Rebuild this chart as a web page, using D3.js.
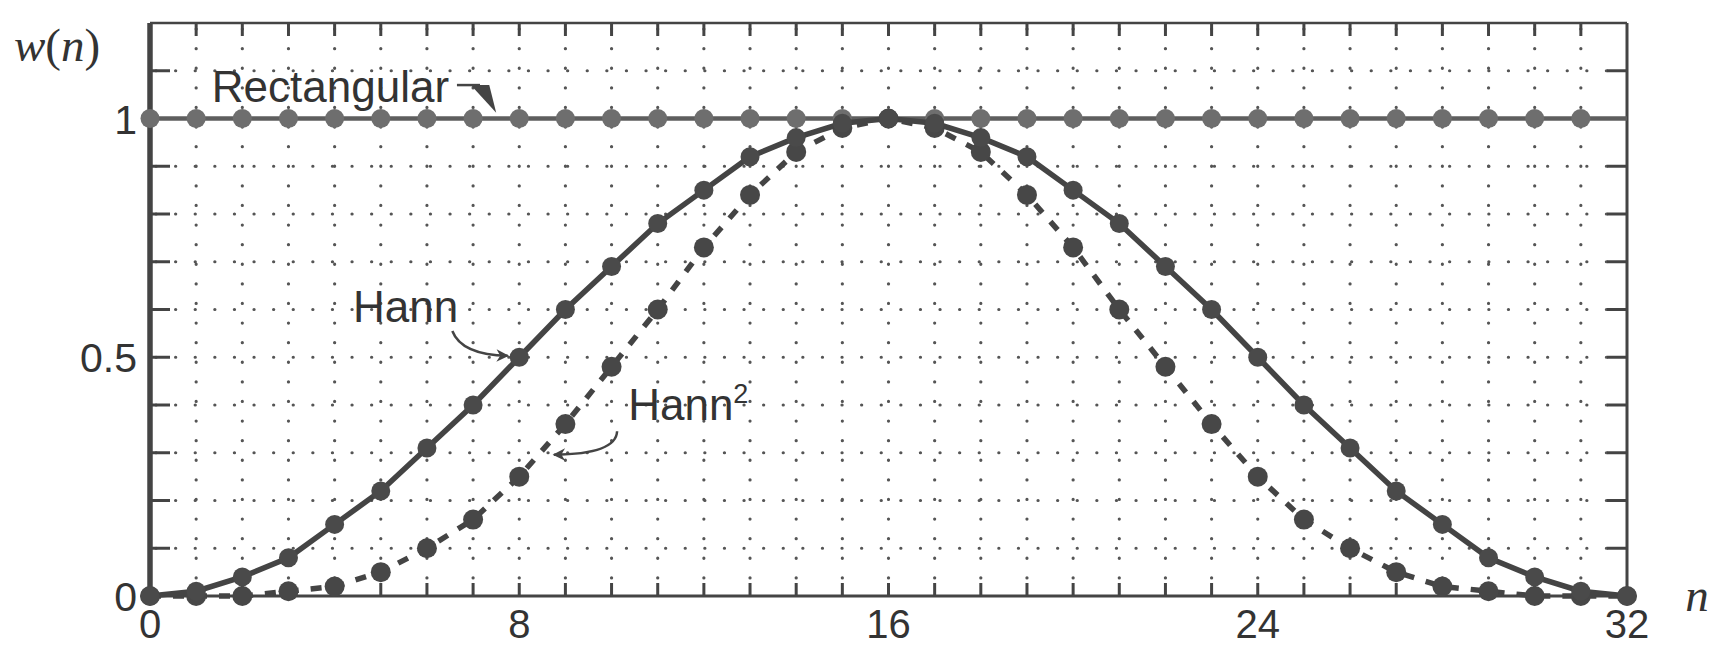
<!DOCTYPE html>
<meta charset="utf-8">
<html>
  <style>
    body { margin: 0; background: #fff; }
    text { font-family: "Liberation Sans", Arial, sans-serif; fill: #333; }
    .grid line { stroke: #555; stroke-width: 3.2; stroke-linecap: round; stroke-dasharray: 0.1 19.5; }
    .tick-mark { stroke: #444; stroke-width: 3; }
    .frame { fill: none; stroke: #444; }
    .serif { font-family: "Liberation Serif", "Times New Roman", serif; font-style: italic; }
  </style>
  <head>
    <script src="https://d3js.org/d3.v7.min.js"></script>
  </head>
  <body>
    <script>
      // sample index n
      var n = d3.range(0, 33);

      // window values
      var rectangular = [1, 1, 1, 1, 1, 1, 1, 1, 1, 1, 1, 1, 1, 1, 1, 1,
                         1, 1, 1, 1, 1, 1, 1, 1, 1, 1, 1, 1, 1, 1, 1, 1];
      var hann = [0, 0.01, 0.04, 0.08, 0.15, 0.22, 0.31, 0.40, 0.50, 0.60, 0.69,
                  0.78, 0.85, 0.92, 0.96, 0.99, 1.00, 0.99, 0.96, 0.92, 0.85, 0.78,
                  0.69, 0.60, 0.50, 0.40, 0.31, 0.22, 0.15, 0.08, 0.04, 0.01, 0];
      var hann2 = [0, 0.00, 0.00, 0.01, 0.02, 0.05, 0.10, 0.16, 0.25, 0.36, 0.48,
                   0.60, 0.73, 0.84, 0.93, 0.98, 1.00, 0.98, 0.93, 0.84, 0.73, 0.60,
                   0.48, 0.36, 0.25, 0.16, 0.10, 0.05, 0.02, 0.01, 0.00, 0.00, 0];

      var xTickLabels = [0, 8, 16, 24, 32];
      var yTickLabels = [0, 0.5, 1];

      var W = 1724, H = 646;
      var margin = {top: 23, right: 97, bottom: 50, left: 150},
          width = W - margin.left - margin.right,
          height = H - margin.top - margin.bottom;

      var svg = d3.select("body").append("svg")
          .attr("width", W)
          .attr("height", H);

      var defs = svg.append("defs");
      defs.append("marker")
          .attr("id", "head")
          .attr("viewBox", "0 0 10 10")
          .attr("refX", 9).attr("refY", 5)
          .attr("markerWidth", 7).attr("markerHeight", 5)
          .attr("markerUnits", "strokeWidth")
          .attr("orient", "auto")
        .append("path")
          .attr("d", "M0,0 L10,5 L0,10 L3,5 Z")
          .attr("fill", "#444");

      var g = svg.append("g")
          .attr("transform", "translate(" + margin.left + "," + margin.top + ")");

      var x = d3.scaleLinear().domain([0, 32]).range([0, width]);
      var y = d3.scaleLinear().domain([0, 1.2]).range([height, 0]);

      // dotted grid
      var grid = g.append("g").attr("class", "grid");
      grid.selectAll(".gv").data(d3.range(1, 32)).enter().append("line")
          .attr("x1", function(d) { return x(d); }).attr("x2", function(d) { return x(d); })
          .attr("y1", y(1.2) + 6).attr("y2", y(0) - 2);
      grid.selectAll(".gh").data(d3.range(1, 12).map(function(d) { return d / 10; })).enter().append("line")
          .attr("y1", function(d) { return y(d); }).attr("y2", function(d) { return y(d); })
          .attr("x1", x(0) + 6).attr("x2", x(32) - 2);

      // inward ticks
      var yMinor = d3.range(1, 12).map(function(d) { return d / 10; });
      g.selectAll(".tl").data(yMinor).enter().append("line").attr("class", "tick-mark")
          .attr("x1", 0).attr("x2", 20)
          .attr("y1", function(d) { return y(d); }).attr("y2", function(d) { return y(d); });
      g.selectAll(".tr").data(yMinor).enter().append("line").attr("class", "tick-mark")
          .attr("x1", width - 20).attr("x2", width)
          .attr("y1", function(d) { return y(d); }).attr("y2", function(d) { return y(d); });
      g.selectAll(".tb").data(d3.range(1, 32)).enter().append("line").attr("class", "tick-mark")
          .attr("x1", function(d) { return x(d); }).attr("x2", function(d) { return x(d); })
          .attr("y1", height).attr("y2", height - 13);
      g.selectAll(".tt").data(d3.range(1, 32)).enter().append("line").attr("class", "tick-mark")
          .attr("x1", function(d) { return x(d); }).attr("x2", function(d) { return x(d); })
          .attr("y1", 0).attr("y2", 13);

      // frame
      g.append("line").attr("class", "frame").attr("stroke-width", 2.5)
          .attr("x1", 0).attr("x2", width).attr("y1", 0).attr("y2", 0);
      g.append("line").attr("class", "frame").attr("stroke-width", 3)
          .attr("x1", width).attr("x2", width).attr("y1", 0).attr("y2", height);
      g.append("line").attr("class", "frame").attr("stroke-width", 3)
          .attr("x1", 0).attr("x2", width).attr("y1", height).attr("y2", height);
      g.append("line").attr("class", "frame").attr("stroke-width", 5.5)
          .attr("x1", 0).attr("x2", 0).attr("y1", 0).attr("y2", height);

      // tick labels
      g.selectAll(".xl").data(xTickLabels).enter().append("text")
          .attr("x", function(d) { return x(d); })
          .attr("y", height + 42)
          .attr("text-anchor", "middle")
          .style("font-size", "40px")
          .text(function(d) { return d; });
      g.selectAll(".yl").data(yTickLabels).enter().append("text")
          .attr("x", -13)
          .attr("y", function(d) { return y(d) + 15; })
          .attr("text-anchor", "end")
          .style("font-size", "41px")
          .text(function(d) { return d; });

      // axis names
      var wn = svg.append("text").attr("class", "serif")
          .attr("x", 14).attr("y", 61)
          .style("font-size", "47px");
      wn.append("tspan").text("w");
      wn.append("tspan").style("font-style", "normal").text("(");
      wn.append("tspan").text("n");
      wn.append("tspan").style("font-style", "normal").text(")");
      svg.append("text").attr("class", "serif")
          .attr("x", 1697).attr("y", 611)
          .attr("text-anchor", "middle")
          .style("font-size", "47px")
          .text("n");

      var line = d3.line()
          .x(function(d) { return x(d[0]); })
          .y(function(d) { return y(d[1]); });

      // rectangular
      var rectPts = rectangular.map(function(v, i) { return [n[i], v]; });
      g.append("path")
          .attr("d", line(rectPts.concat([[32, 1]])))
          .attr("fill", "none").attr("stroke", "#5e5e5e").attr("stroke-width", 4.5);
      g.selectAll(".cr").data(rectPts).enter().append("circle")
          .attr("cx", function(d) { return x(d[0]); })
          .attr("cy", function(d) { return y(d[1]); })
          .attr("r", 9.5)
          .attr("fill", "#6e6e6e");

      // hann squared (dashed)
      var hann2Pts = hann2.map(function(v, i) { return [n[i], v]; });
      g.append("path")
          .attr("d", line(hann2Pts))
          .attr("fill", "none").attr("stroke", "#444").attr("stroke-width", 5.5)
          .attr("stroke-dasharray", "11 12");
      g.selectAll(".c2").data(hann2Pts).enter().append("circle")
          .attr("cx", function(d) { return x(d[0]); })
          .attr("cy", function(d) { return y(d[1]); })
          .attr("r", 10)
          .attr("fill", "#474747");

      // hann (solid)
      var hannPts = hann.map(function(v, i) { return [n[i], v]; });
      g.append("path")
          .attr("d", line(hannPts))
          .attr("fill", "none").attr("stroke", "#444").attr("stroke-width", 5.5);
      g.selectAll(".ch").data(hannPts).enter().append("circle")
          .attr("cx", function(d) { return x(d[0]); })
          .attr("cy", function(d) { return y(d[1]); })
          .attr("r", 9.5)
          .attr("fill", "#4a4a4a");

      // annotations
      g.append("text")
          .attr("x", x(1.34)).attr("y", y(1.035))
          .style("font-size", "44px")
          .text("Rectangular");
      g.append("path")
          .attr("d", "M" + x(6.65) + "," + y(1.07) + " L" + x(7.15) + "," + y(1.07))
          .attr("stroke", "#444").attr("stroke-width", 2.5);
      g.append("path")
          .attr("d", "M" + x(6.95) + "," + y(1.07) + " L" + x(7.35) + "," + y(1.07) +
                     " L" + x(7.5) + "," + y(1.012) + " Z")
          .attr("fill", "#444");

      g.append("text")
          .attr("x", x(4.4)).attr("y", y(0.574))
          .style("font-size", "44px")
          .text("Hann");
      g.append("path")
          .attr("d", "M" + x(6.55) + "," + y(0.555) +
                     " Q" + x(6.75) + "," + y(0.505) + " " + x(7.75) + "," + y(0.503))
          .attr("fill", "none").attr("stroke", "#444").attr("stroke-width", 2.5)
          .attr("marker-end", "url(#head)");

      var h2 = g.append("text")
          .attr("x", x(10.36)).attr("y", y(0.369))
          .style("font-size", "44px");
      h2.append("tspan").text("Hann");
      h2.append("tspan").attr("dy", -17).style("font-size", "27px").text("2");
      g.append("path")
          .attr("d", "M" + x(10.12) + "," + y(0.345) +
                     " Q" + x(10.1) + "," + y(0.297) + " " + x(8.75) + "," + y(0.296))
          .attr("fill", "none").attr("stroke", "#444").attr("stroke-width", 2.5)
          .attr("marker-end", "url(#head)");
    </script>
  </body>
</html>
